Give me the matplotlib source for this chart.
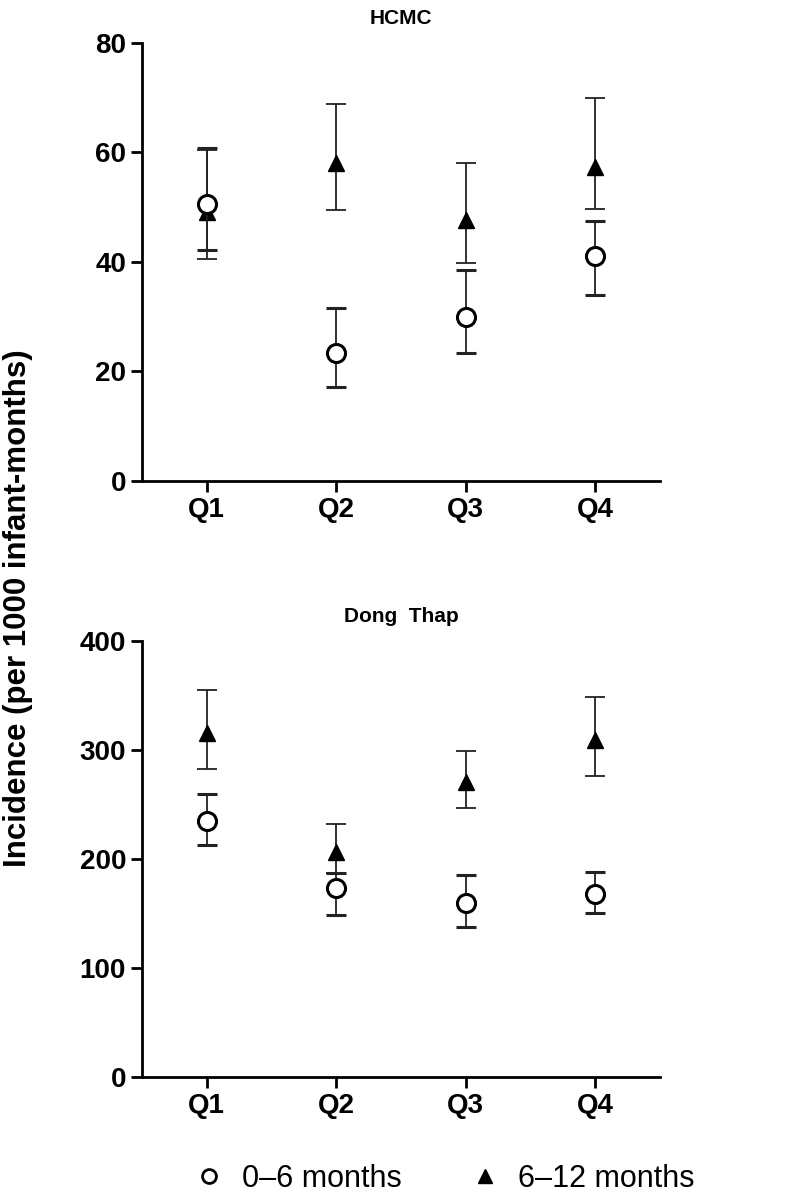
import matplotlib
matplotlib.use('Agg')
import matplotlib.pyplot as plt
from matplotlib.lines import Line2D
import numpy as np

# Data
quarters = ['Q1', 'Q2', 'Q3', 'Q4']

hcmc_young = [50.6, 23.3, 30.0, 41.1]
hcmc_young_lo = [42.2, 17.1, 23.4, 34.0]
hcmc_young_hi = [60.8, 31.5, 38.5, 47.4]
hcmc_old = [49.2, 58.0, 47.7, 57.4]
hcmc_old_lo = [40.6, 49.5, 39.8, 49.7]
hcmc_old_hi = [60.4, 68.8, 58.0, 70.0]

dt_young = [235.2, 173.1, 159.9, 167.9]
dt_young_lo = [212.8, 149.0, 137.6, 150.2]
dt_young_hi = [259.6, 187.5, 185.0, 188.4]
dt_old = [315.3, 206.7, 271.0, 309.2]
dt_old_lo = [282.9, 186.9, 247.1, 276.1]
dt_old_hi = [354.7, 232.1, 299.4, 349.0]

plt.rcParams.update({
    'font.family': ['Liberation Sans', 'DejaVu Sans'],
    'axes.linewidth': 2.0,
    'xtick.major.width': 2.0,
    'ytick.major.width': 2.0,
    'xtick.major.size': 8,
    'ytick.major.size': 8,
    'xtick.direction': 'out',
    'ytick.direction': 'out',
})

fig = plt.figure(figsize=(8, 11.97), dpi=100)
ax1 = fig.add_axes([0.1775, 0.5982, 0.6475, 0.3659])
ax2 = fig.add_axes([0.1775, 0.1003, 0.6475, 0.3642])

x = np.arange(1, len(quarters) + 1)


def draw(ax, yo, yo_lo, yo_hi, ol, ol_lo, ol_hi, ylim, yticks, title):
    yo, yo_lo, yo_hi = map(np.array, (yo, yo_lo, yo_hi))
    ol, ol_lo, ol_hi = map(np.array, (ol, ol_lo, ol_hi))
    ax.errorbar(x, ol, yerr=[ol - ol_lo, ol_hi - ol], fmt='^', color='black',
                markersize=11, ecolor='#222222', elinewidth=1.3, capsize=7.5,
                capthick=1.3, zorder=3)
    ax.errorbar(x, yo, yerr=[yo - yo_lo, yo_hi - yo], fmt='o', color='black',
                markerfacecolor='white', markeredgewidth=2.2, markersize=13,
                ecolor='#222222', elinewidth=1.3, capsize=7.5, capthick=1.3,
                zorder=4)
    ax.set_xlim(0.5, 4.5)
    ax.set_ylim(*ylim)
    ax.set_yticks(yticks)
    ax.set_xticks(x)
    ax.set_xticklabels(quarters)
    for lab in ax.get_xticklabels() + ax.get_yticklabels():
        lab.set_fontsize(20)
        lab.set_fontweight('bold')
    ax.spines['top'].set_visible(False)
    ax.spines['right'].set_visible(False)
    ax.set_title(title, fontsize=15, fontweight='bold', pad=14)


draw(ax1, hcmc_young, hcmc_young_lo, hcmc_young_hi,
     hcmc_old, hcmc_old_lo, hcmc_old_hi, (0, 80), [0, 20, 40, 60, 80], 'HCMC')
draw(ax2, dt_young, dt_young_lo, dt_young_hi,
     dt_old, dt_old_lo, dt_old_hi, (0, 400), [0, 100, 200, 300, 400], 'Dong  Thap')

fig.text(0.022, 0.492, 'Incidence (per 1000 infant-months)', rotation=90,
         ha='center', va='center', fontsize=22.5, fontweight='bold')

handles = [
    Line2D([], [], marker='o', linestyle='none', color='black',
           markerfacecolor='white', markeredgewidth=2.0, markersize=10),
    Line2D([], [], marker='^', linestyle='none', color='black', markersize=10),
]
fig.legend(handles, ['0\u20136 months', '6\u201312 months'], loc='center',
           bbox_to_anchor=(0.555, 0.015), ncol=2, frameon=False, fontsize=22,
           handletextpad=0.6, columnspacing=2.2, handlelength=1.0)

fig.savefig('out.png', dpi=100)
